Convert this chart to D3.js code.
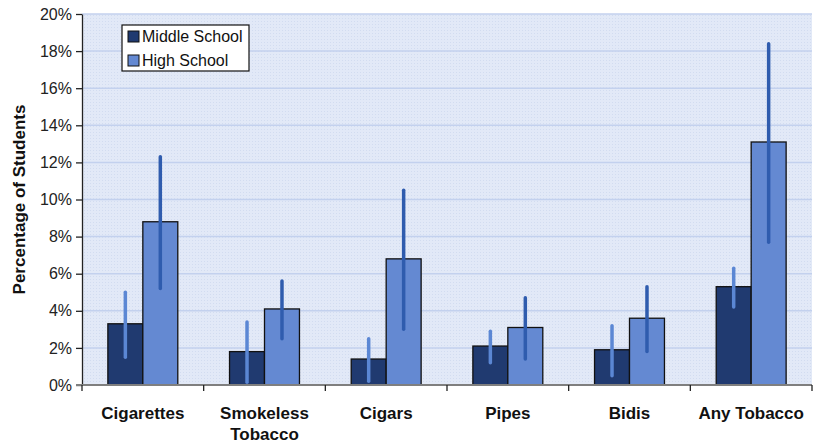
<!DOCTYPE html>
<html>
<head>
<meta charset="utf-8">
<script src="https://cdn.jsdelivr.net/npm/d3@7/dist/d3.min.js"></script>
<style>
  html, body { margin: 0; padding: 0; background: #fff; }
  svg { display: block; font-family: "Liberation Sans", Arial, sans-serif; }
</style>
</head>
<body>
<svg id="chart" width="817" height="443"></svg>
<script>
// Tobacco use prevalence with 95% confidence intervals
const categories = ["Cigarettes", "Smokeless Tobacco", "Cigars", "Pipes", "Bidis", "Any Tobacco"];
const seriesNames = ["Middle School", "High School"];
const middleSchool = [3.3, 1.8, 1.4, 2.1, 1.9, 5.3];
const middleLow    = [1.5, 0.15, 0.2, 1.2, 0.5, 4.2];
const middleHigh   = [5.0, 3.4, 2.5, 2.9, 3.2, 6.3];
const highSchool   = [8.8, 4.1, 6.8, 3.1, 3.6, 13.1];
const highLow      = [5.2, 2.5, 3.0, 1.4, 1.8, 7.7];
const highHigh     = [12.3, 5.6, 10.5, 4.7, 5.3, 18.4];
const yTicks = [0, 2, 4, 6, 8, 10, 12, 14, 16, 18, 20];

const colors = { bar: ["#203a70", "#6489d2"], err: ["#5b87d4", "#2f5cae"] };

const svg = d3.select("#chart");
const m = { left: 82, right: 812, top: 14, bottom: 385 };

const x = d3.scaleBand().domain(categories).range([m.left, m.right]).paddingInner(0).paddingOuter(0);
const xs = d3.scaleBand().domain(seriesNames).range([0, x.bandwidth()]).paddingInner(0).paddingOuter(0.74);
const y = d3.scaleLinear().domain([0, 20]).range([m.bottom, m.top]);

// dotted background fill
const defs = svg.append("defs");
const pat = defs.append("pattern").attr("id", "dots").attr("width", 3).attr("height", 3)
  .attr("patternUnits", "userSpaceOnUse");
pat.append("rect").attr("width", 3).attr("height", 3).attr("fill", "#e2e9f7");
pat.append("rect").attr("x", 0).attr("y", 0).attr("width", 1).attr("height", 1).attr("fill", "#d2dcf0");

svg.append("rect").attr("x", m.left).attr("y", m.top)
  .attr("width", m.right - m.left).attr("height", m.bottom - m.top)
  .attr("fill", "url(#dots)");

// gridlines
svg.append("g").selectAll("line").data(yTicks.filter(d => d > 0)).join("line")
  .attr("x1", m.left).attr("x2", m.right)
  .attr("y1", d => y(d)).attr("y2", d => y(d))
  .attr("stroke", "#c3d1ee").attr("stroke-width", 1.5);

const data = categories.map((c, i) => ({
  cat: c,
  vals: [
    { s: 0, name: seriesNames[0], v: middleSchool[i], lo: middleLow[i], hi: middleHigh[i] },
    { s: 1, name: seriesNames[1], v: highSchool[i], lo: highLow[i], hi: highHigh[i] }
  ]
}));

const groups = svg.append("g").selectAll("g").data(data).join("g")
  .attr("transform", d => `translate(${x(d.cat)},0)`);

groups.selectAll("rect").data(d => d.vals).join("rect")
  .attr("x", d => xs(d.name))
  .attr("width", xs.bandwidth())
  .attr("y", d => y(d.v))
  .attr("height", d => y(0) - y(d.v))
  .attr("fill", d => colors.bar[d.s])
  .attr("stroke", "#111").attr("stroke-width", 1.3);

groups.selectAll("line.err").data(d => d.vals).join("line")
  .attr("class", "err")
  .attr("x1", d => xs(d.name) + xs.bandwidth() / 2)
  .attr("x2", d => xs(d.name) + xs.bandwidth() / 2)
  .attr("y1", d => y(d.lo)).attr("y2", d => y(d.hi))
  .attr("stroke", d => colors.err[d.s])
  .attr("stroke-width", 3.5).attr("stroke-linecap", "round");

// y axis
const yAxis = svg.append("g").attr("transform", `translate(${m.left},0)`)
  .call(d3.axisLeft(y).tickValues(yTicks).tickFormat(d => d + "%").tickSize(6).tickSizeOuter(0));
yAxis.select(".domain").attr("stroke", "#222").attr("stroke-width", 1.3);
yAxis.selectAll(".tick line").attr("stroke", "#222").attr("stroke-width", 1.3);
yAxis.selectAll(".tick text").attr("font-size", 16).attr("fill", "#222")
  .attr("font-family", "Liberation Sans, Arial, sans-serif").attr("dx", "-1");

// x axis
const xAxis = svg.append("g").attr("transform", `translate(0,${m.bottom})`);
xAxis.append("line").attr("x1", m.left - 6).attr("x2", m.right)
  .attr("stroke", "#7f7f7f").attr("stroke-width", 2);
xAxis.selectAll("line.tk").data(categories.slice(1).concat(["__end"])).join("line")
  .attr("class", "tk")
  .attr("x1", (d, i) => m.left + (i + 1) * x.bandwidth())
  .attr("x2", (d, i) => m.left + (i + 1) * x.bandwidth())
  .attr("y1", 0).attr("y2", 6).attr("stroke", "#222").attr("stroke-width", 1.3);
xAxis.append("line").attr("x1", m.left).attr("x2", m.left).attr("y1", 0).attr("y2", 6)
  .attr("stroke", "#222").attr("stroke-width", 1.3);

const xLabels = [["Cigarettes"], ["Smokeless", "Tobacco"], ["Cigars"], ["Pipes"], ["Bidis"], ["Any Tobacco"]];
const lbl = xAxis.selectAll("text.xl").data(categories).join("text")
  .attr("class", "xl")
  .attr("x", d => x(d) + x.bandwidth() / 2)
  .attr("y", 34)
  .attr("text-anchor", "middle")
  .attr("font-size", 17).attr("font-weight", "bold").attr("fill", "#111");
lbl.each(function(d, i) {
  d3.select(this).selectAll("tspan").data(xLabels[i]).join("tspan")
    .attr("x", x(d) + x.bandwidth() / 2)
    .attr("dy", (t, j) => j === 0 ? 0 : 21)
    .text(t => t);
});

// y axis title
svg.append("text")
  .attr("transform", `translate(25,${(m.top + m.bottom) / 2}) rotate(-90)`)
  .attr("text-anchor", "middle")
  .attr("font-size", 17).attr("font-weight", "bold").attr("fill", "#111")
  .text("Percentage of Students");

// legend
const lg = svg.append("g").attr("transform", "translate(122,25)");
lg.append("rect").attr("width", 127).attr("height", 46)
  .attr("fill", "#fff").attr("stroke", "#111").attr("stroke-width", 1.2);
seriesNames.forEach((n, i) => {
  lg.append("rect").attr("x", 6).attr("y", 6 + i * 24).attr("width", 11).attr("height", 11)
    .attr("fill", colors.bar[i]).attr("stroke", "#111").attr("stroke-width", 1);
  lg.append("text").attr("x", 20).attr("y", 17 + i * 24)
    .attr("font-size", 16).attr("fill", "#111").text(n);
});
</script>
</body>
</html>
